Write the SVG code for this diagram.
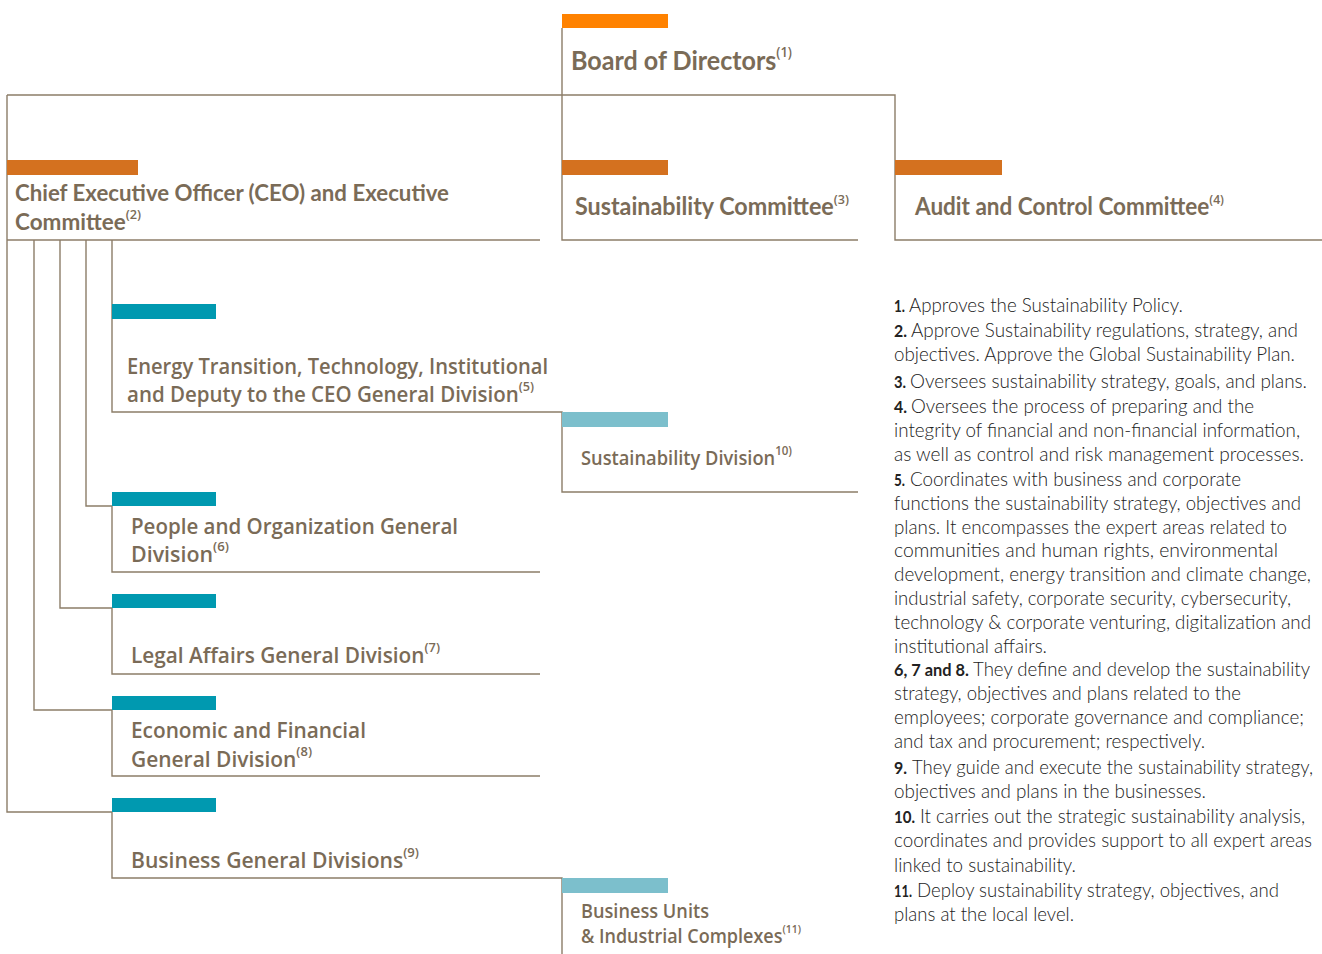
<svg xmlns="http://www.w3.org/2000/svg" width="1322" height="954" viewBox="0 0 1322 954">
<style>
.ln{fill:none;stroke:#8C7D68;stroke-width:1.4}
.or1{fill:#FF8200}
.or{fill:#D4711F}
.tl{fill:#0099B0}
.lt{fill:#7CBFCC}
.h1{font-family:Lato,"Open Sans",sans-serif;font-weight:700;fill:#7A6B57}
.h2{font-family:"Open Sans",Lato,sans-serif;font-weight:600;fill:#7A6B57}
.s{font-family:"Open Sans",Lato,sans-serif;font-weight:600}
.bd{font-family:Lato,"Open Sans",sans-serif;font-weight:300;font-size:19px;fill:#222222}
.bn{font-family:Lato,"Open Sans",sans-serif;font-weight:700;font-size:17px;fill:#222222}
</style>
<rect width="1322" height="954" fill="#ffffff"/>
<g id="connectors">
<path class="ln" d="M562 28V240H858"/>
<path class="ln" d="M7 95H895V240H1322"/>
<path class="ln" d="M7 95V812H112"/>
<path class="ln" d="M7 240H540"/>
<path class="ln" d="M34 240V710H112"/>
<path class="ln" d="M60 240V608H112"/>
<path class="ln" d="M86 240V506H112"/>
<path class="ln" d="M112 240V412H562V492H858"/>
<path class="ln" d="M112 506V572H540"/>
<path class="ln" d="M112 608V674H540"/>
<path class="ln" d="M112 710V776H540"/>
<path class="ln" d="M112 812V878H562V954"/>
</g>
<g id="board">
<rect class="or1" x="562" y="14" width="106" height="14"/>
<text class="h1" x="571" y="70" font-size="27" textLength="221" lengthAdjust="spacingAndGlyphs">Board of Directors<tspan class="s" font-size="14" dy="-13">(1)</tspan></text>
</g>
<g id="ceo">
<rect class="or" x="7" y="160" width="131" height="15"/>
<text class="h1" x="15" y="201" font-size="23" textLength="434" lengthAdjust="spacingAndGlyphs">Chief Executive Officer (CEO) and Executive</text>
<text class="h1" x="15" y="230" font-size="23" textLength="126" lengthAdjust="spacingAndGlyphs">Committee<tspan class="s" font-size="13" dy="-11">(2)</tspan></text>
</g>
<g id="sustainability-committee">
<rect class="or" x="562" y="160" width="106" height="15"/>
<text class="h1" x="575" y="215" font-size="24" textLength="274" lengthAdjust="spacingAndGlyphs">Sustainability Committee<tspan class="s" font-size="13" dy="-11">(3)</tspan></text>
</g>
<g id="audit">
<rect class="or" x="895" y="160" width="107" height="15"/>
<text class="h1" x="915" y="215" font-size="24" textLength="309" lengthAdjust="spacingAndGlyphs">Audit and Control Committee<tspan class="s" font-size="13" dy="-11">(4)</tspan></text>
</g>
<g id="energy">
<rect class="tl" x="112" y="304" width="104" height="15"/>
<text class="h2" x="127" y="374" font-size="21" textLength="421" lengthAdjust="spacingAndGlyphs">Energy Transition, Technology, Institutional</text>
<text class="h2" x="127" y="402" font-size="21" textLength="407" lengthAdjust="spacingAndGlyphs">and Deputy to the CEO General Division<tspan font-size="13" dy="-11">(5)</tspan></text>
</g>
<g id="sustainability-division">
<rect class="lt" x="562" y="412" width="106" height="15"/>
<text class="h2" x="581" y="465" font-size="19" textLength="211" lengthAdjust="spacingAndGlyphs">Sustainability Division<tspan font-size="12" dy="-10">10)</tspan></text>
</g>
<g id="people">
<rect class="tl" x="112" y="492" width="104" height="14"/>
<text class="h2" x="131" y="534" font-size="21" textLength="327" lengthAdjust="spacingAndGlyphs">People and Organization General</text>
<text class="h2" x="131" y="562" font-size="21" textLength="98" lengthAdjust="spacingAndGlyphs">Division<tspan font-size="13" dy="-11">(6)</tspan></text>
</g>
<g id="legal">
<rect class="tl" x="112" y="594" width="104" height="14"/>
<text class="h2" x="131" y="663" font-size="21" textLength="309" lengthAdjust="spacingAndGlyphs">Legal Affairs General Division<tspan font-size="13" dy="-11">(7)</tspan></text>
</g>
<g id="economic">
<rect class="tl" x="112" y="696" width="104" height="14"/>
<text class="h2" x="131" y="738" font-size="21" textLength="235" lengthAdjust="spacingAndGlyphs">Economic and Financial</text>
<text class="h2" x="131" y="767" font-size="21" textLength="181" lengthAdjust="spacingAndGlyphs">General Division<tspan font-size="13" dy="-11">(8)</tspan></text>
</g>
<g id="business">
<rect class="tl" x="112" y="798" width="104" height="14"/>
<text class="h2" x="131" y="868" font-size="21" textLength="288" lengthAdjust="spacingAndGlyphs">Business General Divisions<tspan font-size="13" dy="-11">(9)</tspan></text>
</g>
<g id="business-units">
<rect class="lt" x="562" y="878" width="106" height="15"/>
<text class="h2" x="581" y="918" font-size="19" textLength="128" lengthAdjust="spacingAndGlyphs">Business Units</text>
<text class="h2" x="581" y="943" font-size="19" textLength="220" lengthAdjust="spacingAndGlyphs">&amp; Industrial Complexes<tspan font-size="11" dy="-10">(11)</tspan></text>
</g>
<g id="notes" class="bd">
<text class="bn" x="894" y="312" textLength="11" lengthAdjust="spacingAndGlyphs">1.</text>
<text x="909" y="312" textLength="274" lengthAdjust="spacingAndGlyphs">Approves the Sustainability Policy.</text>
<text class="bn" x="894" y="337" textLength="13" lengthAdjust="spacingAndGlyphs">2.</text>
<text x="911" y="337" textLength="387" lengthAdjust="spacingAndGlyphs">Approve Sustainability regulations, strategy, and</text>
<text x="894" y="361" textLength="401" lengthAdjust="spacingAndGlyphs">objectives. Approve the Global Sustainability Plan.</text>
<text class="bn" x="894" y="388" textLength="12" lengthAdjust="spacingAndGlyphs">3.</text>
<text x="910" y="388" textLength="397" lengthAdjust="spacingAndGlyphs">Oversees sustainability strategy, goals, and plans.</text>
<text class="bn" x="894" y="413" textLength="13" lengthAdjust="spacingAndGlyphs">4.</text>
<text x="911" y="413" textLength="343" lengthAdjust="spacingAndGlyphs">Oversees the process of preparing and the</text>
<text x="894" y="437" textLength="406" lengthAdjust="spacingAndGlyphs">integrity of financial and non-financial information,</text>
<text x="894" y="461" textLength="410" lengthAdjust="spacingAndGlyphs">as well as control and risk management processes.</text>
<text class="bn" x="894" y="486" textLength="11" lengthAdjust="spacingAndGlyphs">5.</text>
<text x="910" y="486" textLength="331" lengthAdjust="spacingAndGlyphs">Coordinates with business and corporate</text>
<text x="894" y="510" textLength="407" lengthAdjust="spacingAndGlyphs">functions the sustainability strategy, objectives and</text>
<text x="894" y="534" textLength="393" lengthAdjust="spacingAndGlyphs">plans. It encompasses the expert areas related to</text>
<text x="894" y="557" textLength="384" lengthAdjust="spacingAndGlyphs">communities and human rights, environmental</text>
<text x="894" y="581" textLength="417" lengthAdjust="spacingAndGlyphs">development, energy transition and climate change,</text>
<text x="894" y="605" textLength="397" lengthAdjust="spacingAndGlyphs">industrial safety, corporate security, cybersecurity,</text>
<text x="894" y="629" textLength="417" lengthAdjust="spacingAndGlyphs">technology &amp; corporate venturing, digitalization and</text>
<text x="894" y="653" textLength="153" lengthAdjust="spacingAndGlyphs">institutional affairs.</text>
<text class="bn" x="894" y="676" textLength="75" lengthAdjust="spacingAndGlyphs">6, 7 and 8.</text>
<text x="973" y="676" textLength="337" lengthAdjust="spacingAndGlyphs">They define and develop the sustainability</text>
<text x="894" y="700" textLength="347" lengthAdjust="spacingAndGlyphs">strategy, objectives and plans related to the</text>
<text x="894" y="724" textLength="410" lengthAdjust="spacingAndGlyphs">employees; corporate governance and compliance;</text>
<text x="894" y="748" textLength="311" lengthAdjust="spacingAndGlyphs">and tax and procurement; respectively.</text>
<text class="bn" x="894" y="774" textLength="13" lengthAdjust="spacingAndGlyphs">9.</text>
<text x="912" y="774" textLength="401" lengthAdjust="spacingAndGlyphs">They guide and execute the sustainability strategy,</text>
<text x="894" y="798" textLength="312" lengthAdjust="spacingAndGlyphs">objectives and plans in the businesses.</text>
<text class="bn" x="894" y="823" textLength="21" lengthAdjust="spacingAndGlyphs">10.</text>
<text x="920" y="823" textLength="385" lengthAdjust="spacingAndGlyphs">It carries out the strategic sustainability analysis,</text>
<text x="894" y="847" textLength="418" lengthAdjust="spacingAndGlyphs">coordinates and provides support to all expert areas</text>
<text x="894" y="872" textLength="182" lengthAdjust="spacingAndGlyphs">linked to sustainability.</text>
<text class="bn" x="894" y="897" textLength="18" lengthAdjust="spacingAndGlyphs">11.</text>
<text x="917" y="897" textLength="362" lengthAdjust="spacingAndGlyphs">Deploy sustainability strategy, objectives, and</text>
<text x="894" y="921" textLength="180" lengthAdjust="spacingAndGlyphs">plans at the local level.</text>
</g>
</svg>
